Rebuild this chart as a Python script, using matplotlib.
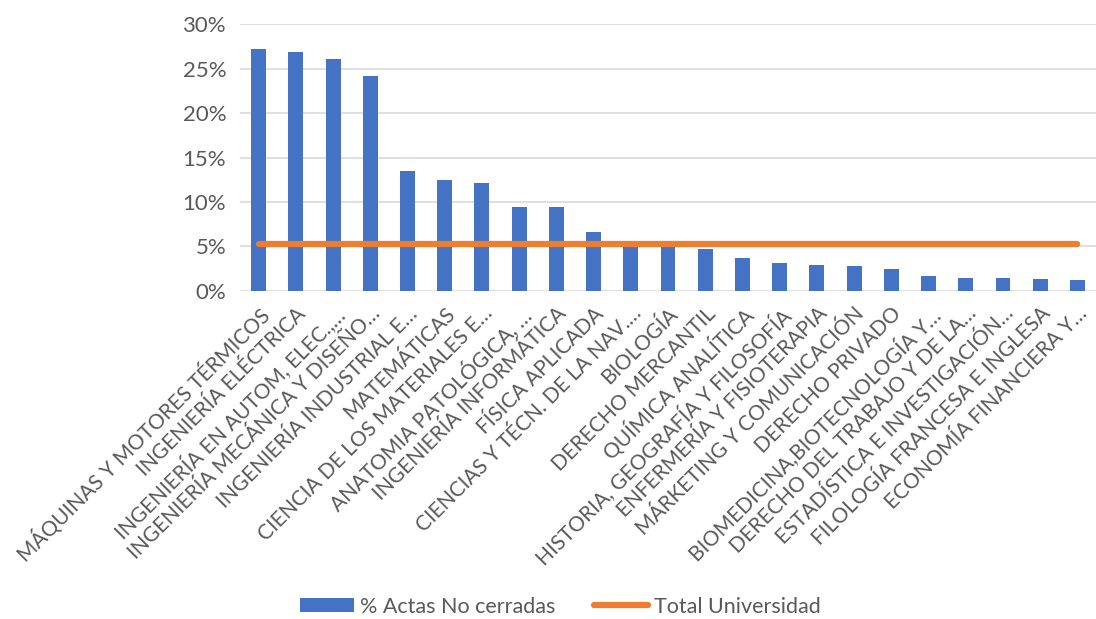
import numpy as np
import matplotlib
matplotlib.use("Agg")
import matplotlib.pyplot as plt
from matplotlib.ticker import PercentFormatter

# Datos del gráfico
departamentos = [
    "MÁQUINAS Y MOTORES TÉRMICOS",
    "INGENIERÍA ELÉCTRICA",
    "INGENIERÍA EN AUTOM, ELEC.,…",
    "INGENIERÍA MECÁNICA Y DISEÑO…",
    "INGENIERÍA INDUSTRIAL E…",
    "MATEMÁTICAS",
    "CIENCIA DE LOS MATERIALES E…",
    "ANATOMIA PATOLÓGICA, …",
    "INGENIERÍA INFORMÁTICA",
    "FÍSICA APLICADA",
    "CIENCIAS Y TÉCN. DE LA NAV.…",
    "BIOLOGÍA",
    "DERECHO MERCANTIL",
    "QUÍMICA ANALÍTICA",
    "HISTORIA, GEOGRAFÍA Y FILOSOFÍA",
    "ENFERMERÍA Y FISIOTERAPIA",
    "MÁRKETING Y COMUNICACIÓN",
    "DERECHO PRIVADO",
    "BIOMEDICINA,BIOTECNOLOGÍA Y…",
    "DERECHO DEL TRABAJO Y DE LA…",
    "ESTADÍSTICA E INVESTIGACIÓN…",
    "FILOLOGÍA FRANCESA E INGLESA",
    "ECONOMÍA FINANCIERA Y…",
]
actas_no_cerradas = [27.2, 26.9, 26.1, 24.2, 13.5, 12.5, 12.1, 9.4, 9.4, 6.6,
                     5.2, 5.0, 4.7, 3.75, 3.1, 2.95, 2.8, 2.45, 1.65, 1.45,
                     1.45, 1.4, 1.2]
total_universidad = 5.25

AZUL = "#4472C4"
NARANJA = "#ED7D31"
GRIS = "#595959"

plt.rcParams["font.family"] = ["Lato", "DejaVu Sans"]

fig = plt.figure(figsize=(10.96, 6.19), dpi=100)
ax = fig.add_axes([0.219, 0.5299, 0.781, 0.4313])

x = np.arange(len(departamentos))
valores = np.array(actas_no_cerradas) / 100
barras = ax.bar(x, valores, width=0.4, color=AZUL, label="% Actas No cerradas", zorder=2)
linea, = ax.plot(x, np.full(len(x), total_universidad / 100), color=NARANJA, lw=4.5,
                 solid_capstyle="round", label="Total Universidad", zorder=3)

ax.set_xlim(-0.5, len(x) - 0.5)
ax.set_ylim(0, 0.30)
ax.set_yticks(np.arange(0, 0.31, 0.05))
ax.yaxis.set_major_formatter(PercentFormatter(1.0, decimals=0))
ax.grid(axis="y", color="#D9D9D9", lw=1.2, zorder=0)
for s in ax.spines.values():
    s.set_visible(False)
ax.tick_params(axis="both", length=0, colors=GRIS)
ax.tick_params(axis="y", pad=10, labelsize=16)

ax.set_xticks(x)
ax.set_xticklabels(departamentos, rotation=45, ha="right", va="top",
                   rotation_mode="anchor", fontsize=15, color=GRIS)
ax.tick_params(axis="x", pad=9)

leg = fig.legend([barras, linea], ["% Actas No cerradas", "Total Universidad"],
                 loc="center", bbox_to_anchor=(0.511, 0.02), ncol=2,
                 frameon=False, fontsize=15.5, handlelength=2.5, handleheight=0.6,
                 handletextpad=0.28, columnspacing=1.8)
for t in leg.get_texts():
    t.set_color(GRIS)

fig.savefig("out.png", dpi=100)
